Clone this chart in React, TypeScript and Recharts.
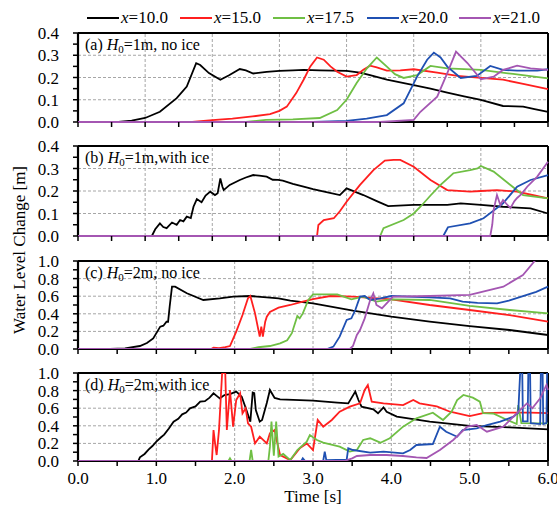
import { LineChart, Line, XAxis, YAxis, ReferenceLine } from 'recharts';

const legendNames = ['10.0', '15.0', '17.5', '20.0', '21.0'];
const colors = ['#000000', '#ff1f1f', '#6fbf44', '#1f50b2', '#a456b2'];

// axis ticks (minor + major) and grid positions
const xTicksAB = [0, 0.5, 1, 1.5, 2, 2.5, 3, 3.5, 4, 4.5, 5, 5.5, 6, 6.5, 7];
const xGridAB = [1, 2, 3, 4, 5, 6];
const xTicksCD = [0, 0.5, 1, 1.5, 2, 2.5, 3, 3.5, 4, 4.5, 5, 5.5, 6];
const xMajorCD = [0, 1, 2, 3, 4, 5, 6];
const xGridCD = [1, 2, 3, 4, 5];
const yTicksAB = [0, 0.05, 0.1, 0.15, 0.2, 0.25, 0.3, 0.35, 0.4];
const yMajorAB = [0, 0.1, 0.2, 0.3, 0.4];
const yGridAB = [0.1, 0.2, 0.3];
const yTicksCD = [0, 0.1, 0.2, 0.3, 0.4, 0.5, 0.6, 0.7, 0.8, 0.9, 1.0];
const yMajorCD = [0, 0.2, 0.4, 0.6, 0.8, 1.0];
const yGridCD = [0.2, 0.4, 0.6, 0.8];

// (a) H0=1m, no ice
const aT10 = [0, 0.6, 0.8, 1.0, 1.22, 1.47, 1.62, 1.76, 1.82, 1.95, 2.12, 2.25, 2.41, 2.5, 2.61, 2.81, 3.0, 3.2, 3.36, 3.6, 4.0, 4.2, 4.35, 4.6, 5.0, 5.25, 5.5, 5.75, 6.0, 6.33, 6.63, 6.8, 7.0];
const aV10 = [0, 0.001, 0.006, 0.018, 0.046, 0.107, 0.159, 0.264, 0.256, 0.22, 0.19, 0.21, 0.238, 0.232, 0.218, 0.225, 0.23, 0.232, 0.234, 0.232, 0.23, 0.222, 0.211, 0.19, 0.166, 0.15, 0.132, 0.115, 0.099, 0.072, 0.069, 0.058, 0.046];
const aT15 = [0, 1.7, 2.0, 2.3, 2.6, 2.86, 3.0, 3.11, 3.25, 3.36, 3.46, 3.56, 3.66, 3.76, 3.86, 4.0, 4.15, 4.25, 4.35, 4.45, 4.6, 4.8, 5.0, 5.35, 5.65, 6.0, 6.33, 6.63, 7.0];
const aV15 = [0, 0, 0.008, 0.015, 0.025, 0.035, 0.05, 0.069, 0.13, 0.19, 0.25, 0.29, 0.28, 0.25, 0.226, 0.204, 0.211, 0.235, 0.253, 0.245, 0.231, 0.232, 0.237, 0.222, 0.207, 0.198, 0.19, 0.171, 0.148];
const aT17 = [0, 2.5, 2.8, 3.2, 3.6, 3.86, 4.0, 4.15, 4.3, 4.45, 4.6, 4.72, 4.85, 5.05, 5.25, 5.5, 6.0, 6.48, 7.0];
const aV17 = [0, 0, 0.01, 0.012, 0.018, 0.054, 0.1, 0.175, 0.24, 0.29, 0.249, 0.215, 0.198, 0.211, 0.252, 0.241, 0.234, 0.216, 0.196];
const aT20 = [0, 3.5, 4.0, 4.3, 4.6, 4.85, 5.05, 5.2, 5.3, 5.4, 5.5, 5.7, 5.94, 6.14, 6.33, 6.54, 6.84, 7.0];
const aV20 = [0, 0, 0.005, 0.015, 0.031, 0.084, 0.204, 0.28, 0.312, 0.29, 0.249, 0.198, 0.207, 0.252, 0.234, 0.231, 0.231, 0.237];
const aT21 = [0, 4.5, 5.0, 5.1, 5.35, 5.5, 5.63, 5.8, 6.0, 6.19, 6.33, 6.54, 6.74, 7.0];
const aV21 = [0, 0, 0.01, 0.046, 0.114, 0.22, 0.316, 0.265, 0.192, 0.204, 0.234, 0.253, 0.241, 0.234];

// (b) H0=1m, with ice
const bT10 = [0, 1.1, 1.15, 1.22, 1.27, 1.32, 1.4, 1.47, 1.52, 1.57, 1.62, 1.68, 1.72, 1.77, 1.84, 1.9, 1.97, 2.04, 2.08, 2.12, 2.15, 2.17, 2.26, 2.41, 2.5, 2.61, 2.7, 2.81, 2.9, 2.98, 3.05, 3.2, 3.36, 3.5, 3.7, 3.9, 4.0, 4.25, 4.45, 4.62, 5.0, 5.5, 5.7, 6.0, 6.33, 6.74, 7.0];
const bV10 = [0, 0, 0.03, 0.056, 0.04, 0.035, 0.06, 0.05, 0.071, 0.065, 0.086, 0.08, 0.13, 0.164, 0.15, 0.18, 0.197, 0.182, 0.19, 0.256, 0.22, 0.204, 0.227, 0.249, 0.26, 0.271, 0.268, 0.264, 0.25, 0.249, 0.246, 0.232, 0.219, 0.208, 0.195, 0.182, 0.212, 0.182, 0.155, 0.133, 0.138, 0.138, 0.145, 0.138, 0.13, 0.123, 0.1];
const bT15 = [0, 3.56, 3.58, 3.66, 3.81, 3.9, 4.0, 4.2, 4.4, 4.57, 4.7, 4.8, 5.0, 5.25, 5.5, 5.84, 6.0, 6.24, 6.54, 6.8, 7.0];
const bV15 = [0, 0, 0.049, 0.071, 0.079, 0.11, 0.152, 0.227, 0.293, 0.335, 0.338, 0.338, 0.308, 0.249, 0.204, 0.197, 0.2, 0.204, 0.197, 0.18, 0.167];
const bT17 = [0, 4.5, 4.55, 4.85, 5.0, 5.1, 5.25, 5.4, 5.59, 5.84, 5.95, 6.0, 6.19, 6.44, 6.63, 7.0];
const bV17 = [0, 0, 0.035, 0.071, 0.1, 0.13, 0.18, 0.227, 0.279, 0.293, 0.3, 0.311, 0.286, 0.227, 0.182, 0.167];
const bT20 = [0, 5.44, 5.51, 5.84, 6.04, 6.33, 6.54, 6.74, 7.0];
const bV20 = [0, 0, 0.039, 0.056, 0.079, 0.145, 0.219, 0.249, 0.271];
const bT21 = [0, 6.14, 6.17, 6.19, 6.24, 6.29, 6.33, 6.39, 6.44, 6.5, 6.54, 6.6, 6.69, 6.84, 7.0];
const bV21 = [0, 0, 0.05, 0.116, 0.182, 0.138, 0.16, 0.14, 0.124, 0.155, 0.169, 0.185, 0.219, 0.264, 0.33];

// (c) H0=2m, no ice
const cT10 = [0, 0.41, 0.6, 0.79, 0.88, 0.96, 1.05, 1.09, 1.13, 1.15, 1.17, 1.2, 1.24, 1.39, 1.6, 1.81, 1.98, 2.2, 2.41, 2.56, 2.71, 3.0, 3.51, 4.0, 4.49, 5.0, 5.51, 6.0];
const cV10 = [0, 0, 0.008, 0.034, 0.068, 0.121, 0.254, 0.265, 0.311, 0.31, 0.48, 0.708, 0.708, 0.633, 0.557, 0.576, 0.595, 0.602, 0.587, 0.576, 0.549, 0.519, 0.436, 0.367, 0.311, 0.261, 0.216, 0.159];
const cT15 = [0, 1.7, 1.73, 1.8, 1.88, 1.94, 2.02, 2.1, 2.17, 2.2, 2.26, 2.32, 2.34, 2.36, 2.39, 2.41, 2.45, 2.56, 2.71, 2.87, 3.0, 3.22, 3.51, 4.0, 4.49, 5.0, 5.51, 6.0];
const cV15 = [0, 0, 0.015, 0.01, 0.02, 0.034, 0.197, 0.386, 0.576, 0.602, 0.405, 0.14, 0.254, 0.14, 0.311, 0.367, 0.42, 0.47, 0.5, 0.538, 0.568, 0.602, 0.595, 0.565, 0.5, 0.443, 0.386, 0.311];
const cT17 = [0, 2.2, 2.3, 2.45, 2.58, 2.67, 2.73, 2.8, 2.83, 2.87, 2.94, 3.0, 3.31, 3.49, 3.64, 3.81, 4.0, 4.49, 5.0, 5.51, 6.0];
const cV17 = [0, 0, 0.02, 0.034, 0.064, 0.1, 0.18, 0.375, 0.348, 0.405, 0.557, 0.621, 0.621, 0.565, 0.595, 0.538, 0.565, 0.557, 0.489, 0.443, 0.405];
const cT20 = [0, 3.18, 3.26, 3.34, 3.43, 3.49, 3.54, 3.6, 3.66, 3.73, 3.86, 4.0, 4.49, 4.75, 4.91, 5.1, 5.35, 5.5, 5.68, 5.85, 6.0];
const cV20 = [0, 0, 0.027, 0.14, 0.33, 0.348, 0.443, 0.595, 0.602, 0.557, 0.576, 0.602, 0.587, 0.576, 0.538, 0.525, 0.519, 0.55, 0.602, 0.65, 0.708];
const cT21 = [0, 3.47, 3.51, 3.56, 3.6, 3.66, 3.73, 3.77, 3.81, 3.88, 3.94, 4.02, 4.49, 5.0, 5.17, 5.43, 5.68, 5.83, 6.0];
const cV21 = [0, 0, 0.034, 0.159, 0.216, 0.348, 0.557, 0.633, 0.5, 0.462, 0.519, 0.595, 0.602, 0.614, 0.651, 0.708, 0.841, 1.0, 1.2];

// (d) H0=2m, with ice
const dT10 = [0, 0.77, 0.79, 0.85, 0.9, 0.95, 1.0, 1.06, 1.1, 1.16, 1.22, 1.28, 1.33, 1.38, 1.43, 1.5, 1.56, 1.62, 1.68, 1.73, 1.77, 1.81, 1.87, 1.94, 2.02, 2.09, 2.15, 2.2, 2.23, 2.25, 2.27, 2.32, 2.35, 2.41, 2.45, 2.51, 2.58, 3.0, 3.31, 3.45, 3.54, 3.58, 3.62, 3.77, 3.83, 3.9, 3.94, 4.07, 4.49, 5.0, 5.51, 6.0];
const dV10 = [0, 0, 0.042, 0.08, 0.13, 0.17, 0.22, 0.27, 0.3, 0.37, 0.447, 0.48, 0.53, 0.55, 0.598, 0.62, 0.674, 0.68, 0.72, 0.769, 0.74, 0.712, 0.75, 0.761, 0.788, 0.731, 0.58, 0.447, 0.777, 0.77, 0.58, 0.447, 0.466, 0.659, 0.807, 0.716, 0.7, 0.685, 0.663, 0.655, 0.788, 0.693, 0.617, 0.587, 0.542, 0.61, 0.56, 0.504, 0.447, 0.398, 0.383, 0.36];
const dT15 = [0, 1.71, 1.73, 1.75, 1.77, 1.8, 1.84, 1.88, 1.9, 1.94, 1.98, 2.02, 2.07, 2.1, 2.14, 2.17, 2.21, 2.26, 2.32, 2.41, 2.45, 2.51, 2.54, 2.58, 2.71, 2.83, 2.92, 3.0, 3.06, 3.13, 3.24, 3.34, 3.47, 3.6, 3.66, 3.7, 3.75, 3.9, 4.15, 4.28, 4.36, 4.58, 4.75, 5.0, 5.17, 5.43, 5.77, 6.0];
const dV15 = [0, 0, 0.352, 0.2, 0.068, 0.35, 1.0, 1.0, 0.352, 0.807, 0.39, 0.693, 0.769, 0.542, 0.6, 0.428, 0.39, 0.2, 0.276, 0.2, 0.314, 0.352, 0.22, 0.068, 0.01, 0.144, 0.2, 0.125, 0.466, 0.39, 0.466, 0.56, 0.617, 0.655, 0.807, 0.864, 0.674, 0.655, 0.636, 0.693, 0.655, 0.62, 0.56, 0.51, 0.545, 0.55, 0.549, 0.545];
const dT17 = [0, 1.92, 1.94, 1.96, 2.19, 2.21, 2.23, 2.43, 2.45, 2.47, 2.5, 2.53, 2.56, 2.62, 2.71, 2.8, 2.92, 2.96, 3.05, 3.13, 3.34, 3.47, 3.56, 3.64, 3.73, 3.86, 3.98, 4.15, 4.32, 4.53, 4.66, 4.77, 4.84, 4.92, 5.04, 5.13, 5.17, 5.3, 5.48, 5.6, 5.62, 5.66, 6.0];
const dV17 = [0, 0, 0.03, 0, 0, 0.125, 0, 0, 0.163, 0.447, 0.06, 0.447, 0.05, 0.08, 0.01, 0.125, 0.22, 0.295, 0.239, 0.208, 0.163, 0.106, 0.125, 0.239, 0.258, 0.208, 0.258, 0.39, 0.485, 0.549, 0.466, 0.56, 0.693, 0.75, 0.72, 0.674, 0.545, 0.54, 0.466, 0.42, 0.636, 0.43, 0.428];
const dT20 = [0, 2.85, 2.87, 2.9, 3.13, 3.15, 3.17, 3.43, 3.45, 3.51, 3.73, 3.9, 4.15, 4.24, 4.32, 4.53, 4.62, 4.7, 4.84, 4.91, 5.09, 5.22, 5.39, 5.56, 5.62, 5.65, 5.67, 5.68, 5.74, 5.75, 5.77, 5.78, 5.9, 5.91, 5.93, 5.94, 5.98, 5.99, 6.0];
const dV20 = [0, 0, 0.03, 0, 0, 0.106, 0.01, 0.015, 0.144, 0.125, 0.095, 0.106, 0.087, 0.125, 0.182, 0.193, 0.39, 0.333, 0.276, 0.352, 0.371, 0.409, 0.447, 0.504, 0.55, 1.1, 1.1, 0.45, 0.45, 1.1, 1.1, 0.43, 0.42, 1.1, 1.1, 0.42, 0.43, 1.1, 1.1];
const dT21 = [0, 3.4, 3.5, 3.56, 3.73, 3.94, 4.15, 4.32, 4.45, 4.62, 4.79, 4.97, 5.09, 5.22, 5.43, 5.6, 5.73, 5.8, 5.9, 5.98, 6.0];
const dV21 = [0, 0, 0.03, 0.057, 0.068, 0.068, 0.057, 0.042, 0.034, 0.125, 0.239, 0.39, 0.409, 0.333, 0.39, 0.542, 0.655, 0.6, 0.712, 0.864, 0.807];

const pts = (t: number[], v: number[]) => t.map((x, i) => ({ t: x, v: v[i] }));

const FONT = '"Liberation Serif", "Times New Roman", serif';

const XTick = (props: any) => {
  const { x, y, payload, majors } = props;
  const val = payload.value;
  const isMajor = majors && majors.some((m: number) => Math.abs(m - val) < 1e-6);
  return (
    <g>
      <line x1={x} x2={x} y1={y} y2={y + 5} stroke="#000" strokeWidth={1.5} />
      {isMajor && (
        <text x={x} y={y + 23} textAnchor="middle" fontSize={17} fill="#000" stroke="none" fontFamily={FONT}>
          {val.toFixed(1)}
        </text>
      )}
    </g>
  );
};

const YTick = (props: any) => {
  const { x, y, payload, majors } = props;
  const val = payload.value;
  const isMajor = majors.some((m: number) => Math.abs(m - val) < 1e-6);
  return (
    <g>
      <line x1={x - 5} x2={x} y1={y} y2={y} stroke="#000" strokeWidth={1.5} />
      {isMajor && (
        <text x={x - 19} y={y + 6} textAnchor="end" fontSize={17} fill="#000" stroke="none" fontFamily={FONT}>
          {val.toFixed(1)}
        </text>
      )}
    </g>
  );
};

interface PanelProps {
  top: number;
  marginTop: number;
  plotH: number;
  xMax: number;
  xTicks: number[];
  xGrid: number[];
  yMax: number;
  yTicks: number[];
  yMajor: number[];
  yGrid: number[];
  clip: boolean;
  series: { t: number; v: number }[][];
  bottomAxis?: boolean;
}

function Panel(p: PanelProps) {
  const axisH = p.bottomAxis ? 45 : 16;
  return (
    <div style={{ position: 'absolute', left: 0, top: p.top }}>
      <LineChart width={557} height={p.marginTop + p.plotH + axisH} margin={{ top: p.marginTop, right: 9, bottom: 0, left: 0 }}>
        <XAxis
          type="number"
          dataKey="t"
          domain={[0, p.xMax]}
          ticks={p.xTicks}
          interval={0}
          height={axisH}
          tickSize={0}
          tickMargin={0}
          tickLine={false}
          axisLine={false}
          tick={<XTick majors={p.bottomAxis ? xMajorCD : null} />}
        />
        <YAxis
          type="number"
          domain={[0, p.yMax]}
          ticks={p.yTicks}
          interval={0}
          allowDataOverflow={p.clip}
          width={78}
          tickSize={0}
          tickMargin={0}
          tickLine={false}
          axisLine={false}
          tick={<YTick majors={p.yMajor} />}
        />
        {p.xGrid.map((g) => (
          <ReferenceLine key={'x' + g} x={g} stroke="#a6a6a6" strokeDasharray="3 2" />
        ))}
        {p.yGrid.map((g) => (
          <ReferenceLine key={'y' + g} y={g} stroke="#a6a6a6" strokeDasharray="3 2" />
        ))}
        <ReferenceLine y={0} stroke="#000" strokeWidth={2.2} />
        <ReferenceLine x={0} stroke="#000" strokeWidth={2.2} />
        <ReferenceLine y={p.yMax} stroke="#000" strokeWidth={2} />
        <ReferenceLine x={p.xMax} stroke="#000" strokeWidth={2} />
        {p.series.map((d, i) => (
          <Line
            key={i}
            data={d}
            dataKey="v"
            type="linear"
            stroke={colors[i]}
            strokeWidth={1.8}
            dot={false}
            isAnimationActive={false}
          />
        ))}
      </LineChart>
    </div>
  );
}

const PanelLabel = ({ top, tag, h, rest }: { top: number; tag: string; h: string; rest: string }) => (
  <div style={{ position: 'absolute', left: 85, top, fontSize: 16, lineHeight: '20px', whiteSpace: 'nowrap' }}>
    {tag} <i>H</i>
    <sub style={{ fontSize: 11, lineHeight: 0, verticalAlign: -3 }}>0</sub>={h}
    {rest}
  </div>
);

export default function App() {
  const legendLeft = [87, 180, 273, 367, 459];
  return (
    <div style={{ position: 'absolute', left: 0, top: 0, width: 557, height: 506, background: '#fff', fontFamily: FONT, color: '#000' }}>
      {legendNames.map((n, i) => (
        <div key={n} style={{ position: 'absolute', left: legendLeft[i], top: 7, display: 'flex', alignItems: 'center', fontSize: 17, lineHeight: '22px' }}>
          <svg width={32} height={4} style={{ marginRight: 2 }}>
            <line x1={0} x2={32} y1={2} y2={2} stroke={colors[i]} strokeWidth={2} />
          </svg>
          <span>
            <i>x</i>={n}
          </span>
        </div>
      ))}

      <Panel top={0} marginTop={33} plotH={89} xMax={7} xTicks={xTicksAB} xGrid={xGridAB} yMax={0.4} yTicks={yTicksAB} yMajor={yMajorAB} yGrid={yGridAB} clip={false}
        series={[pts(aT10, aV10), pts(aT15, aV15), pts(aT17, aV17), pts(aT20, aV20), pts(aT21, aV21)]} />
      <Panel top={130} marginTop={16} plotH={90} xMax={7} xTicks={xTicksAB} xGrid={xGridAB} yMax={0.4} yTicks={yTicksAB} yMajor={yMajorAB} yGrid={yGridAB} clip={false}
        series={[pts(bT10, bV10), pts(bT15, bV15), pts(bT17, bV17), pts(bT20, bV20), pts(bT21, bV21)]} />
      <Panel top={244} marginTop={17} plotH={88} xMax={6} xTicks={xTicksCD} xGrid={xGridCD} yMax={1.0} yTicks={yTicksCD} yMajor={yMajorCD} yGrid={yGridCD} clip
        series={[pts(cT10, cV10), pts(cT15, cV15), pts(cT17, cV17), pts(cT20, cV20), pts(cT21, cV21)]} />
      <Panel top={357} marginTop={16} plotH={88} xMax={6} xTicks={xTicksCD} xGrid={xGridCD} yMax={1.0} yTicks={yTicksCD} yMajor={yMajorCD} yGrid={yGridCD} clip
        series={[pts(dT10, dV10), pts(dT15, dV15), pts(dT17, dV17), pts(dT20, dV20), pts(dT21, dV21)]} bottomAxis />

      <PanelLabel top={35} tag="(a)" h="1m" rest=", no ice" />
      <PanelLabel top={148} tag="(b)" h="1m" rest=",with ice" />
      <PanelLabel top={263} tag="(c)" h="2m" rest=", no ice" />
      <PanelLabel top={375} tag="(d)" h="2m" rest=",with ice" />

      <div style={{ position: 'absolute', left: 313, top: 496, transform: 'translate(-50%, -50%)', fontSize: 17, lineHeight: '17px', whiteSpace: 'nowrap' }}>
        Time [s]
      </div>
      <div style={{ position: 'absolute', left: 20, top: 250, transform: 'translate(-50%, -50%) rotate(-90deg)', fontSize: 17, whiteSpace: 'nowrap' }}>
        Water Level Change [m]
      </div>
    </div>
  );
}
